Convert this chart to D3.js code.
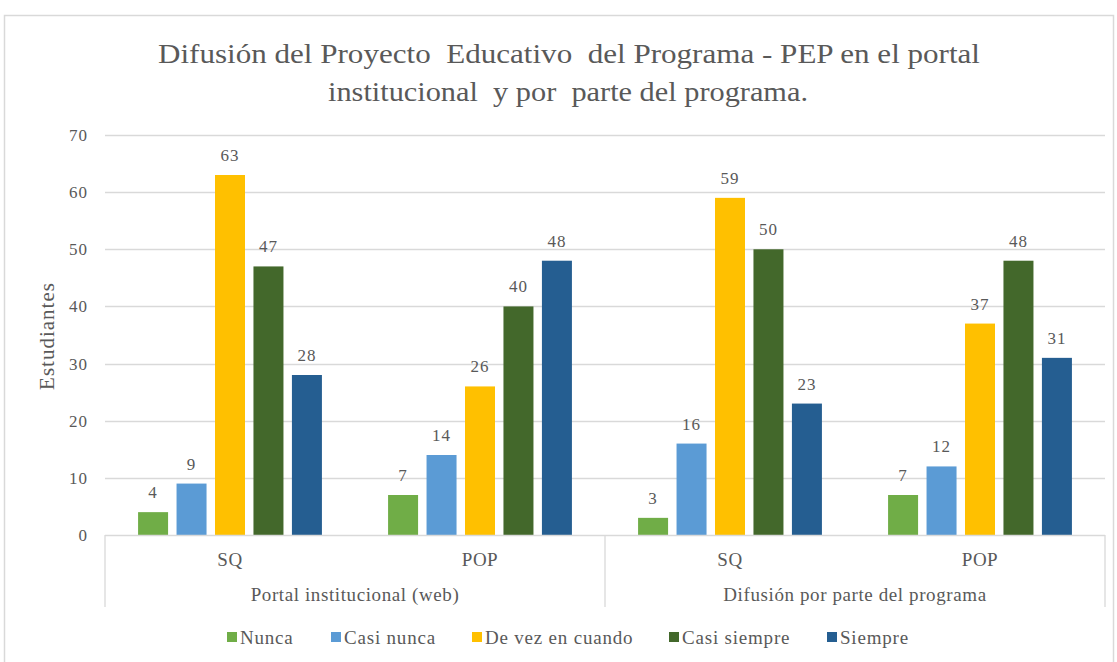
<!DOCTYPE html>
<html><head><meta charset="utf-8">
<script src="https://cdn.jsdelivr.net/npm/d3@7"></script>
<style>body{margin:0;background:#fff;} svg text{font-family:"Liberation Serif","DejaVu Serif",serif;fill:#595959;white-space:pre;}</style>
</head><body><svg id="c" width="1117" height="662" font-family="Liberation Serif, serif"></svg>
<script>
const groups = ["Portal institucional (web)", "Difusión por parte del programa"];
const subcats = ["SQ", "POP"];
const series = ["Nunca", "Casi nunca", "De vez en cuando", "Casi siempre", "Siempre"];
const colors = ["#70AD47", "#5B9BD5", "#FFC000", "#43682B", "#255E91"];
const portalSQ = [4, 9, 63, 47, 28];
const portalPOP = [7, 14, 26, 40, 48];
const difusionSQ = [3, 16, 59, 50, 23];
const difusionPOP = [7, 12, 37, 48, 31];
const yTicks = [0, 10, 20, 30, 40, 50, 60, 70];

const cats = [
  {g: 0, s: 0, vals: portalSQ},
  {g: 0, s: 1, vals: portalPOP},
  {g: 1, s: 0, vals: difusionSQ},
  {g: 1, s: 1, vals: difusionPOP}
];
const svg = d3.select("#c");
const L = 105, R = 1105, T = 135, B = 535;

// outer border
svg.append("rect").attr("x", 4.5).attr("y", 15.5).attr("width", 1109).attr("height", 660)
  .attr("fill", "none").attr("stroke", "#D9D9D9").attr("stroke-width", 1.5);

// title
const title = svg.append("text").attr("text-anchor", "middle").attr("font-size", 28);
title.append("tspan").attr("x", 569).attr("y", 63).attr("textLength", 822).attr("lengthAdjust", "spacingAndGlyphs")
  .text("Difusión del Proyecto  Educativo  del Programa - PEP en el portal");
title.append("tspan").attr("x", 568).attr("y", 101).attr("textLength", 480).attr("lengthAdjust", "spacingAndGlyphs")
  .text("institucional  y por  parte del programa.");

const y = d3.scaleLinear().domain([0, 70]).range([B, T]);
const x0 = d3.scaleBand().domain(d3.range(cats.length)).range([L, R]);
const x1 = d3.scaleBand().domain(series).range([0, x0.bandwidth()]).paddingInner(0.22).paddingOuter(0.86);

// gridlines
svg.append("g").selectAll("line").data(yTicks.filter(d => d > 0)).join("line")
  .attr("x1", L).attr("x2", R).attr("y1", d => Math.round(y(d)) + 0.5).attr("y2", d => Math.round(y(d)) + 0.5)
  .attr("stroke", "#D9D9D9").attr("stroke-width", 1.3);
// y labels
svg.append("g").selectAll("text").data(yTicks).join("text")
  .attr("x", 88).attr("y", d => y(d)).attr("dy", "0.35em").attr("text-anchor", "end")
  .attr("font-size", 17).attr("letter-spacing", 1).text(d => d);
// y title
svg.append("text").attr("transform", "translate(54," + 336 + ") rotate(-90)")
  .attr("text-anchor", "middle").attr("font-size", 21).attr("letter-spacing", 1).text("Estudiantes");

// bars
const cg = svg.append("g").selectAll("g").data(cats).join("g")
  .attr("transform", (d, i) => "translate(" + x0(i) + ",0)");
cg.selectAll("rect").data(d => d.vals.map((v, k) => ({v, k}))).join("rect")
  .attr("x", d => x1(series[d.k])).attr("width", x1.bandwidth())
  .attr("y", d => y(d.v)).attr("height", d => B - y(d.v)).attr("fill", d => colors[d.k]);
cg.selectAll("text").data(d => d.vals.map((v, k) => ({v, k}))).join("text")
  .attr("x", d => x1(series[d.k]) + x1.bandwidth() / 2).attr("y", d => y(d.v) - 14)
  .attr("text-anchor", "middle").attr("font-size", 17).attr("letter-spacing", 1).text(d => d.v);

// category axis
const ax = svg.append("g").attr("stroke", "#D9D9D9").attr("stroke-width", 1.3);
ax.append("line").attr("x1", L).attr("x2", R).attr("y1", B + 0.5).attr("y2", B + 0.5);
[L, (L + R) / 2, R].forEach(xx => {
  ax.append("line").attr("x1", xx).attr("x2", xx).attr("y1", B).attr("y2", 607);
});
svg.append("g").selectAll("text").data(cats).join("text")
  .attr("x", (d, i) => x0(i) + x0.bandwidth() / 2).attr("y", 566).attr("text-anchor", "middle")
  .attr("font-size", 19).attr("letter-spacing", 0.5).text(d => subcats[d.s]);
const xg = d3.scaleBand().domain(groups).range([L, R]);
svg.append("g").selectAll("text").data(groups).join("text")
  .attr("x", d => xg(d) + xg.bandwidth() / 2).attr("y", 601).attr("text-anchor", "middle")
  .attr("font-size", 19).attr("letter-spacing", 0.6).text(d => d);

// legend
const legX = [227, 331, 472, 669, 827];
const lg = svg.append("g").selectAll("g").data(series).join("g")
  .attr("transform", (d, i) => "translate(" + legX[i] + ",637)");
lg.append("rect").attr("x", 0).attr("y", -5).attr("width", 10).attr("height", 10).attr("fill", (d, i) => colors[i]);
lg.append("text").attr("x", 13).attr("y", 0).attr("dy", "0.35em").attr("font-size", 19).attr("letter-spacing", 0.8).text(d => d);
</script></body></html>
